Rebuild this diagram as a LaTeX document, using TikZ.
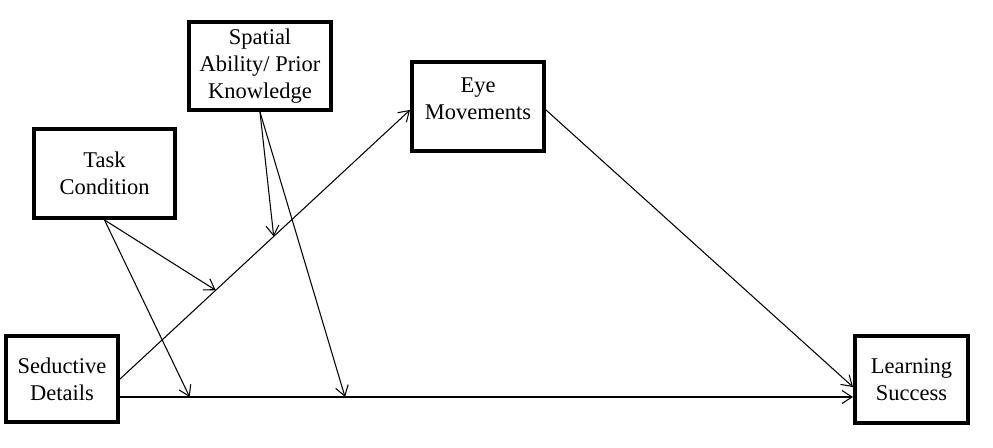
\documentclass[tikz,border=0pt]{standalone}
\usepackage{fontspec}
\setmainfont{Liberation Serif}
\usetikzlibrary{arrows.meta,calc}
\tikzset{
  box/.style={
    draw,
    line width=2.3pt,
    rectangle,
    align=center,
    inner sep=2pt,
    font=\rmfamily\fontsize{12.8}{15.3}\selectfont,
  },
  arr/.style={-{Straight Barb[length=2mm, width=2.6mm]}, line width=0.6pt},
}
\begin{document}
\begin{tikzpicture}[x=0.02cm, y=-0.02cm]
  \useasboundingbox (0,0) rectangle (993,448);

  \node[box, minimum width=2.24cm, minimum height=1.72cm] (sed) at (62,379) {Seductive\\Details};
  \node[box, minimum width=2.84cm, minimum height=1.76cm] (spat) at (260,66) {Spatial\\Ability/ Prior\\Knowledge};
  \node[box, minimum width=2.64cm, minimum height=1.78cm, text depth=0.3cm] (eye) at (478,106.5) {Eye\\Movements};
  \node[box, minimum width=2.82cm, minimum height=1.78cm] (task) at (104.5,173.5) {Task\\Condition};
  \node[box, minimum width=2.26cm, minimum height=1.74cm] (learn) at (911.5,379.5) {Learning\\Success};

  % direct and mediated paths
  \draw[arr] (sed.east) -- coordinate[pos=0.33] (m1) coordinate[pos=0.53] (m2) ($(eye.west)+(0,3.5)$);
  \draw[arr] ($(eye.east)+(0,3.5)$) -- ($(learn.west)+(0,7.5)$);
  \coordinate (s2) at ($(sed.east)+(0,18)$);
  \draw[arr] (s2) -- coordinate[pos=0.095] (b1) coordinate[pos=0.307] (b2) (s2 -| learn.west);

  % moderators
  \draw[arr] (task.south) -- (m1);
  \draw[arr] (task.south) -- (b1);
  \draw[arr] (spat.south) -- (m2);
  \draw[arr] (spat.south) -- (b2);
\end{tikzpicture}
\end{document}
